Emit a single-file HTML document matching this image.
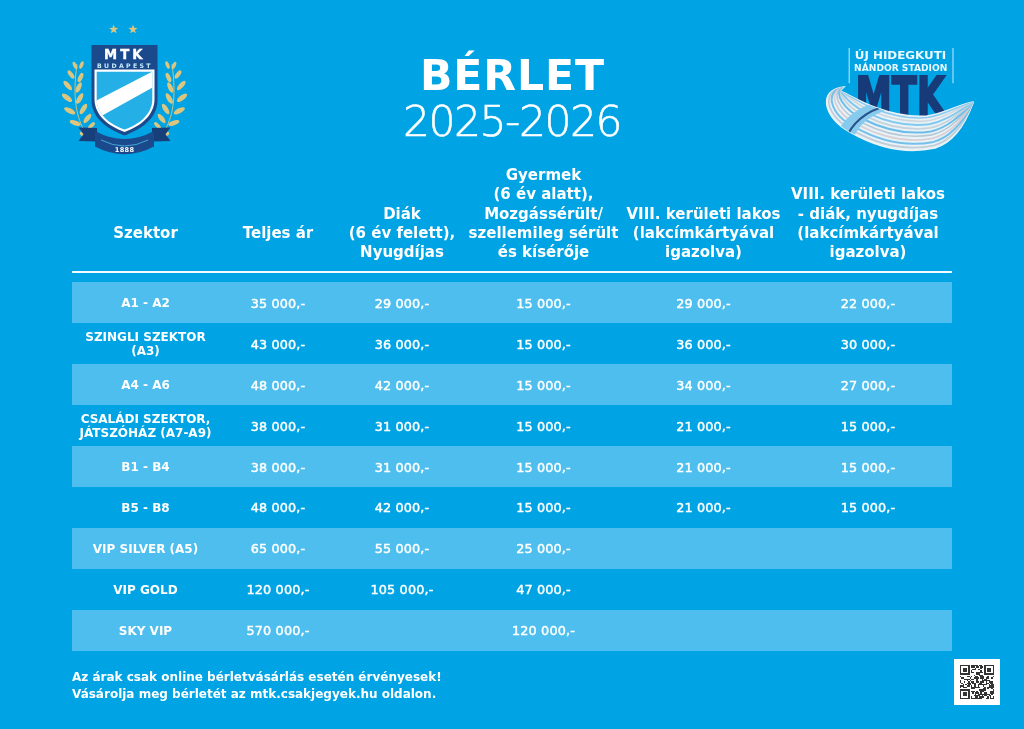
<!DOCTYPE html>
<html lang="hu"><head><meta charset="utf-8"><title>MTK Bérlet 2025-2026</title>
<style>
html,body{margin:0;padding:0}
#w{position:absolute;left:0;top:0;width:1024px;height:729px;filter:blur(0.45px)}
body{width:1024px;height:729px;background:#00a3e4;position:relative;overflow:hidden;font-family:"DejaVu Sans","Liberation Sans",sans-serif;color:#fff}
.a{position:absolute;display:block}
.t1{position:absolute;left:312px;width:400px;text-align:center;font-weight:bold;font-size:42.6px;line-height:50px;top:49.86px;letter-spacing:0.9px;text-indent:0.9px}
.t2{position:absolute;left:312px;width:400px;text-align:center;font-family:"DejaVu Sans","Liberation Sans",sans-serif;font-weight:200;font-size:42.5px;line-height:46px;top:99.29px;letter-spacing:-1.5px;-webkit-text-stroke:0.55px #fff}
.h{position:absolute;width:200px;text-align:center;font-weight:bold;font-size:15px;line-height:19.3px;white-space:nowrap}
.rule{position:absolute;left:72px;top:270.9px;width:880px;height:2.6px;background:#f2fbff}
.band{position:absolute;left:72px;width:880px;height:41px;background:#4dbeed}
.c{position:absolute;width:160px;text-align:center;font-weight:bold;font-size:12px;line-height:14px;white-space:nowrap}
.p{font-weight:normal;font-size:12.8px;letter-spacing:0.15px;-webkit-text-stroke:0.45px #fff}
.foot{position:absolute;left:72px;top:669.35px;font-weight:bold;font-size:12px;line-height:17px;white-space:nowrap}
.qr{position:absolute;left:954px;top:659px;width:46px;height:46px;background:#fff}
.qr svg{position:absolute;left:6px;top:6px}
</style></head><body><div id="w">
<svg class="a" style="left:50px;top:15px" width="150" height="150" viewBox="50 15 150 150"><polygon points="113.70,24.60 114.88,27.78 118.27,27.92 115.60,30.02 116.52,33.28 113.70,31.40 110.88,33.28 111.80,30.02 109.13,27.92 112.52,27.78" fill="#dcc67f"/><polygon points="133.00,24.60 134.18,27.78 137.57,27.92 134.90,30.02 135.82,33.28 133.00,31.40 130.18,33.28 131.10,30.02 128.43,27.92 131.82,27.78" fill="#dcc67f"/><ellipse cx="174.0" cy="65.5" rx="1.8" ry="4.0" transform="rotate(25.0 174.0 65.5)" fill="#dcc67f"/><ellipse cx="178.0" cy="74.5" rx="2.1" ry="5.0" transform="rotate(35.0 178.0 74.5)" fill="#dcc67f"/><ellipse cx="181.3" cy="85.5" rx="2.4" ry="5.9" transform="rotate(42.0 181.3 85.5)" fill="#dcc67f"/><ellipse cx="182.0" cy="97.8" rx="2.5" ry="6.2" transform="rotate(52.0 182.0 97.8)" fill="#dcc67f"/><ellipse cx="179.3" cy="110.8" rx="2.5" ry="6.2" transform="rotate(62.0 179.3 110.8)" fill="#dcc67f"/><ellipse cx="173.8" cy="123.0" rx="2.4" ry="5.8" transform="rotate(72.0 173.8 123.0)" fill="#dcc67f"/><ellipse cx="167.5" cy="65.0" rx="1.8" ry="4.0" transform="rotate(-20.0 167.5 65.0)" fill="#dcc67f"/><ellipse cx="168.5" cy="77.5" rx="2.1" ry="5.0" transform="rotate(-25.0 168.5 77.5)" fill="#dcc67f"/><ellipse cx="170.3" cy="87.5" rx="2.3" ry="5.6" transform="rotate(-25.0 170.3 87.5)" fill="#dcc67f"/><ellipse cx="169.3" cy="98.5" rx="2.4" ry="6.0" transform="rotate(-30.0 169.3 98.5)" fill="#dcc67f"/><ellipse cx="165.6" cy="109.0" rx="2.4" ry="6.0" transform="rotate(-32.0 165.6 109.0)" fill="#dcc67f"/><ellipse cx="161.6" cy="118.5" rx="2.3" ry="5.6" transform="rotate(-38.0 161.6 118.5)" fill="#dcc67f"/><ellipse cx="157.5" cy="125.5" rx="1.9" ry="4.4" transform="rotate(-45.0 157.5 125.5)" fill="#dcc67f"/><ellipse cx="166.5" cy="134.0" rx="2.0" ry="3.0" transform="rotate(60.0 166.5 134.0)" fill="#dcc67f"/><path d="M164,132 C172,118 177,100 172,64" stroke="#dcc67f" stroke-width="0.9" fill="none"/><ellipse cx="75.0" cy="65.5" rx="1.8" ry="4.0" transform="rotate(-25.0 75.0 65.5)" fill="#dcc67f"/><ellipse cx="71.0" cy="74.5" rx="2.1" ry="5.0" transform="rotate(-35.0 71.0 74.5)" fill="#dcc67f"/><ellipse cx="67.7" cy="85.5" rx="2.4" ry="5.9" transform="rotate(-42.0 67.7 85.5)" fill="#dcc67f"/><ellipse cx="67.0" cy="97.8" rx="2.5" ry="6.2" transform="rotate(-52.0 67.0 97.8)" fill="#dcc67f"/><ellipse cx="69.7" cy="110.8" rx="2.5" ry="6.2" transform="rotate(-62.0 69.7 110.8)" fill="#dcc67f"/><ellipse cx="75.2" cy="123.0" rx="2.4" ry="5.8" transform="rotate(-72.0 75.2 123.0)" fill="#dcc67f"/><ellipse cx="81.5" cy="65.0" rx="1.8" ry="4.0" transform="rotate(20.0 81.5 65.0)" fill="#dcc67f"/><ellipse cx="80.5" cy="77.5" rx="2.1" ry="5.0" transform="rotate(25.0 80.5 77.5)" fill="#dcc67f"/><ellipse cx="78.7" cy="87.5" rx="2.3" ry="5.6" transform="rotate(25.0 78.7 87.5)" fill="#dcc67f"/><ellipse cx="79.7" cy="98.5" rx="2.4" ry="6.0" transform="rotate(30.0 79.7 98.5)" fill="#dcc67f"/><ellipse cx="83.4" cy="109.0" rx="2.4" ry="6.0" transform="rotate(32.0 83.4 109.0)" fill="#dcc67f"/><ellipse cx="87.4" cy="118.5" rx="2.3" ry="5.6" transform="rotate(38.0 87.4 118.5)" fill="#dcc67f"/><ellipse cx="91.5" cy="125.5" rx="1.9" ry="4.4" transform="rotate(45.0 91.5 125.5)" fill="#dcc67f"/><ellipse cx="82.5" cy="134.0" rx="2.0" ry="3.0" transform="rotate(-60.0 82.5 134.0)" fill="#dcc67f"/><path d="M85,132 C77,118 72,100 77,64" stroke="#dcc67f" stroke-width="0.9" fill="none"/><path d="M91.5,45 L157.5,45 L157.5,100 C157.5,118 142,129 124.5,135.5 C107,129 91.5,118 91.5,100 Z" fill="#1b4a8c"/><path d="M94.5,69.5 L154.5,69.5 L154.5,99 C154.5,115 141,126 124.5,132 C108,126 94.5,115 94.5,99 Z" fill="#ffffff"/><clipPath id="sc"><path d="M96.7,71.7 L152.3,71.7 L152.3,99 C152.3,114 140,124 124.5,129.5 C109,124 96.7,114 96.7,99 Z"/></clipPath><g clip-path="url(#sc)"><rect x="90" y="68" width="70" height="70" fill="#25afe7"/><polygon points="92,102.8 158,68.7 158,84.5 92,121.3" fill="#ffffff"/></g><text x="104" y="58.7" font-family="DejaVu Sans,Liberation Sans,sans-serif" font-weight="bold" font-size="13.2" textLength="38.6" lengthAdjust="spacing" fill="#ffffff" stroke="#ffffff" stroke-width="0.35">MTK</text><text x="97" y="67.6" font-family="DejaVu Sans,Liberation Sans,sans-serif" font-weight="bold" font-size="6.2" textLength="53.6" lengthAdjust="spacing" fill="#c4e9f8">BUDAPEST</text><polygon points="78.5,127.5 97,128 97,141.5 78.5,141 83.5,134.2" fill="#173f7a"/><polygon points="170.5,127.5 152,128 152,141.5 170.5,141 165.5,134.2" fill="#173f7a"/><path d="M95,131 Q124.5,147 154,131 L154,146.5 Q124.5,162 95,146.5 Z" fill="#1b4a8c"/><path d="M101,140 Q124.5,152 148,140" stroke="#4fbdec" stroke-width="0.8" fill="none"/><text x="124.6" y="152.3" text-anchor="middle" font-family="DejaVu Sans,Liberation Sans,sans-serif" font-weight="bold" font-size="6.6" letter-spacing="0.3" fill="#ffffff">1888</text></svg>
<svg class="a" style="left:810px;top:40px" width="180" height="125" viewBox="810 40 180 125"><line x1="849.2" y1="48" x2="849.2" y2="83.3" stroke="#b5e6fa" stroke-width="1.1"/><line x1="953" y1="48" x2="953" y2="83.3" stroke="#b5e6fa" stroke-width="1.1"/><text x="900.5" y="59" text-anchor="middle" font-family="DejaVu Sans,Liberation Sans,sans-serif" font-weight="bold" font-size="10.6" textLength="91.5" lengthAdjust="spacingAndGlyphs" fill="#eafaff">ÚJ HIDEGKUTI</text><text x="900.7" y="70.6" text-anchor="middle" font-family="DejaVu Sans,Liberation Sans,sans-serif" font-weight="bold" font-size="9" textLength="93.2" lengthAdjust="spacingAndGlyphs" fill="#eafaff">NÁNDOR STADION</text><text x="855.4" y="115" font-family="DejaVu Sans,Liberation Sans,sans-serif" font-weight="bold" font-size="53" textLength="89.6" lengthAdjust="spacingAndGlyphs" fill="#173a78" stroke="#173a78" stroke-width="2.2">MTK</text><clipPath id="cr"><path d="M844.0,87.0 C818.0,89.0 822.0,117.0 850.0,132.0 C876.0,147.0 905.0,154.5 935.0,148.0 C955.0,142.0 966.0,122.0 973.0,103.0 L973.0,102.0 C960.0,104.0 945.0,113.5 927.0,116.0 C907.0,117.5 892.0,113.5 877.0,108.0 C860.0,102.0 850.0,95.0 840.0,91.0 Z"/></clipPath><path d="M844.0,87.0 C818.0,89.0 822.0,117.0 850.0,132.0 C876.0,147.0 905.0,154.5 935.0,148.0 C955.0,142.0 966.0,122.0 973.0,103.0 L973.0,102.0 C960.0,104.0 945.0,113.5 927.0,116.0 C907.0,117.5 892.0,113.5 877.0,108.0 C860.0,102.0 850.0,95.0 840.0,91.0 Z" fill="#e8f2f7" stroke="#e8f2f7" stroke-width="1.5"/><g clip-path="url(#cr)" fill="none"><path d="M843.7,87.3 C820.6,89.5 825.0,115.8 852.2,130.1 C877.3,144.3 905.2,151.5 934.4,145.4 C954.2,139.7 965.5,120.6 973.0,102.9" stroke="#c3cdd6" stroke-width="1.8"/><path d="M843.2,87.8 C824.1,90.1 829.2,114.2 855.1,127.4 C879.0,140.6 905.4,147.5 933.5,141.9 C953.1,136.6 964.9,118.6 973.0,102.8" stroke="#74c0ea" stroke-width="2.0"/><path d="M842.8,88.2 C827.6,90.8 833.4,112.5 858.1,124.8 C880.8,136.9 905.6,143.4 932.6,138.4 C952.0,133.4 964.2,116.6 973.0,102.7" stroke="#d9d0d6" stroke-width="1.8"/><path d="M842.4,88.6 C831.1,91.5 837.6,110.9 861.1,122.2 C882.6,133.3 905.8,139.3 931.7,134.9 C950.9,130.3 963.5,114.6 973.0,102.6" stroke="#b9c8d3" stroke-width="1.6"/><path d="M841.9,89.1 C834.6,92.1 841.8,109.2 864.0,119.5 C884.3,129.6 906.0,135.3 930.8,131.4 C949.8,127.2 962.9,112.6 973.0,102.5" stroke="#6ebde9" stroke-width="2.0"/><path d="M841.5,89.5 C838.2,92.8 845.9,107.6 867.0,116.9 C886.1,125.9 906.3,131.2 930.0,127.8 C948.7,124.0 962.2,110.7 973.0,102.4" stroke="#c8d2da" stroke-width="1.8"/><path d="M841.0,90.0 C841.7,93.4 850.1,105.9 870.0,114.2 C887.8,122.2 906.5,127.1 929.1,124.3 C947.6,120.9 961.6,108.7 973.0,102.3" stroke="#83c8ee" stroke-width="1.9"/><path d="M840.6,90.4 C845.2,94.1 854.3,104.2 872.9,111.6 C889.6,118.5 906.7,123.1 928.2,120.8 C946.5,117.8 960.9,106.7 973.0,102.2" stroke="#cfd6dc" stroke-width="1.6"/><path d="M840.2,90.8 C848.4,94.7 858.1,102.8 875.6,109.2 C891.2,115.2 906.9,119.4 927.4,117.6 C945.5,114.9 960.3,104.9 973.0,102.0" stroke="#8ccbee" stroke-width="1.5"/><path d="M837,133 C844,118 860,104 889,99 L893,109 C868,114 857,127 852,142 Z" fill="#86cbee"/><path d="M846,139 C851,125 864,111 889,105" stroke="#2a5288" stroke-width="2.2"/></g></svg>
<div class="t1">BÉRLET</div>
<div class="t2">2025-2026</div>
<div class="h" style="left:45.5px;top:224.36px">Szektor</div>
<div class="h" style="left:178px;top:224.36px">Teljes ár</div>
<div class="h" style="left:302px;top:204.56px">Diák<br>(6 év felett),<br>Nyugdíjas</div>
<div class="h" style="left:443.5px;top:165.96px">Gyermek<br>(6 év alatt),<br>Mozgássérült/<br>szellemileg sérült<br>és kísérője</div>
<div class="h" style="left:603.5px;top:204.56px">VIII. kerületi lakos<br>(lakcímkártyával<br>igazolva)</div>
<div class="h" style="left:768px;top:185.26px">VIII. kerületi lakos<br>- diák, nyugdíjas<br>(lakcímkártyával<br>igazolva)</div>
<div class="rule"></div>
<div class="band" style="top:282px"></div>
<div class="c lab" style="left:65.5px;top:296.1px">A1 - A2</div>
<div class="c p" style="left:198px;top:296.7px">35 000,-</div>
<div class="c p" style="left:322px;top:296.7px">29 000,-</div>
<div class="c p" style="left:463.5px;top:296.7px">15 000,-</div>
<div class="c p" style="left:623.5px;top:296.7px">29 000,-</div>
<div class="c p" style="left:788px;top:296.7px">22 000,-</div>
<div class="c lab" style="left:65.5px;top:330.05px">SZINGLI SZEKTOR<br>(A3)</div>
<div class="c p" style="left:198px;top:337.65px">43 000,-</div>
<div class="c p" style="left:322px;top:337.65px">36 000,-</div>
<div class="c p" style="left:463.5px;top:337.65px">15 000,-</div>
<div class="c p" style="left:623.5px;top:337.65px">36 000,-</div>
<div class="c p" style="left:788px;top:337.65px">30 000,-</div>
<div class="band" style="top:363.9px"></div>
<div class="c lab" style="left:65.5px;top:378px">A4 - A6</div>
<div class="c p" style="left:198px;top:378.6px">48 000,-</div>
<div class="c p" style="left:322px;top:378.6px">42 000,-</div>
<div class="c p" style="left:463.5px;top:378.6px">15 000,-</div>
<div class="c p" style="left:623.5px;top:378.6px">34 000,-</div>
<div class="c p" style="left:788px;top:378.6px">27 000,-</div>
<div class="c lab" style="left:65.5px;top:411.95px">CSALÁDI SZEKTOR,<br>JÁTSZÓHÁZ (A7-A9)</div>
<div class="c p" style="left:198px;top:419.55px">38 000,-</div>
<div class="c p" style="left:322px;top:419.55px">31 000,-</div>
<div class="c p" style="left:463.5px;top:419.55px">15 000,-</div>
<div class="c p" style="left:623.5px;top:419.55px">21 000,-</div>
<div class="c p" style="left:788px;top:419.55px">15 000,-</div>
<div class="band" style="top:445.8px"></div>
<div class="c lab" style="left:65.5px;top:459.9px">B1 - B4</div>
<div class="c p" style="left:198px;top:460.5px">38 000,-</div>
<div class="c p" style="left:322px;top:460.5px">31 000,-</div>
<div class="c p" style="left:463.5px;top:460.5px">15 000,-</div>
<div class="c p" style="left:623.5px;top:460.5px">21 000,-</div>
<div class="c p" style="left:788px;top:460.5px">15 000,-</div>
<div class="c lab" style="left:65.5px;top:500.85px">B5 - B8</div>
<div class="c p" style="left:198px;top:501.45px">48 000,-</div>
<div class="c p" style="left:322px;top:501.45px">42 000,-</div>
<div class="c p" style="left:463.5px;top:501.45px">15 000,-</div>
<div class="c p" style="left:623.5px;top:501.45px">21 000,-</div>
<div class="c p" style="left:788px;top:501.45px">15 000,-</div>
<div class="band" style="top:527.7px"></div>
<div class="c lab" style="left:65.5px;top:541.8px">VIP SILVER (A5)</div>
<div class="c p" style="left:198px;top:542.4px">65 000,-</div>
<div class="c p" style="left:322px;top:542.4px">55 000,-</div>
<div class="c p" style="left:463.5px;top:542.4px">25 000,-</div>
<div class="c lab" style="left:65.5px;top:582.75px">VIP GOLD</div>
<div class="c p" style="left:198px;top:583.35px">120 000,-</div>
<div class="c p" style="left:322px;top:583.35px">105 000,-</div>
<div class="c p" style="left:463.5px;top:583.35px">47 000,-</div>
<div class="band" style="top:609.6px"></div>
<div class="c lab" style="left:65.5px;top:623.7px">SKY VIP</div>
<div class="c p" style="left:198px;top:624.3px">570 000,-</div>
<div class="c p" style="left:463.5px;top:624.3px">120 000,-</div>
<div class="foot">Az árak csak online bérletvásárlás esetén érvényesek!<br>Vásárolja meg bérletét az mtk.csakjegyek.hu oldalon.</div>
<div class="qr"><svg width="34" height="34" viewBox="0 0 25 25" shape-rendering="crispEdges" fill="#333333"><rect x="0" y="0" width="7" height="1"/><rect x="8" y="0" width="5" height="1"/><rect x="14" y="0" width="2" height="1"/><rect x="18" y="0" width="7" height="1"/><rect x="0" y="1" width="1" height="1"/><rect x="6" y="1" width="1" height="1"/><rect x="8" y="1" width="3" height="1"/><rect x="12" y="1" width="2" height="1"/><rect x="15" y="1" width="2" height="1"/><rect x="18" y="1" width="1" height="1"/><rect x="24" y="1" width="1" height="1"/><rect x="0" y="2" width="1" height="1"/><rect x="2" y="2" width="3" height="1"/><rect x="6" y="2" width="1" height="1"/><rect x="11" y="2" width="1" height="1"/><rect x="15" y="2" width="1" height="1"/><rect x="18" y="2" width="1" height="1"/><rect x="20" y="2" width="3" height="1"/><rect x="24" y="2" width="1" height="1"/><rect x="0" y="3" width="1" height="1"/><rect x="2" y="3" width="3" height="1"/><rect x="6" y="3" width="1" height="1"/><rect x="9" y="3" width="3" height="1"/><rect x="13" y="3" width="2" height="1"/><rect x="18" y="3" width="1" height="1"/><rect x="20" y="3" width="3" height="1"/><rect x="24" y="3" width="1" height="1"/><rect x="0" y="4" width="1" height="1"/><rect x="2" y="4" width="3" height="1"/><rect x="6" y="4" width="1" height="1"/><rect x="8" y="4" width="1" height="1"/><rect x="15" y="4" width="1" height="1"/><rect x="18" y="4" width="1" height="1"/><rect x="20" y="4" width="3" height="1"/><rect x="24" y="4" width="1" height="1"/><rect x="0" y="5" width="1" height="1"/><rect x="6" y="5" width="1" height="1"/><rect x="8" y="5" width="2" height="1"/><rect x="12" y="5" width="5" height="1"/><rect x="18" y="5" width="1" height="1"/><rect x="24" y="5" width="1" height="1"/><rect x="0" y="6" width="7" height="1"/><rect x="12" y="6" width="3" height="1"/><rect x="18" y="6" width="7" height="1"/><rect x="10" y="7" width="1" height="1"/><rect x="14" y="7" width="3" height="1"/><rect x="0" y="8" width="1" height="1"/><rect x="5" y="8" width="2" height="1"/><rect x="8" y="8" width="1" height="1"/><rect x="11" y="8" width="2" height="1"/><rect x="15" y="8" width="3" height="1"/><rect x="20" y="8" width="1" height="1"/><rect x="24" y="8" width="1" height="1"/><rect x="1" y="9" width="2" height="1"/><rect x="7" y="9" width="1" height="1"/><rect x="10" y="9" width="4" height="1"/><rect x="15" y="9" width="3" height="1"/><rect x="19" y="9" width="2" height="1"/><rect x="23" y="9" width="1" height="1"/><rect x="3" y="10" width="4" height="1"/><rect x="8" y="10" width="2" height="1"/><rect x="12" y="10" width="1" height="1"/><rect x="16" y="10" width="1" height="1"/><rect x="18" y="10" width="2" height="1"/><rect x="0" y="11" width="1" height="1"/><rect x="5" y="11" width="1" height="1"/><rect x="7" y="11" width="1" height="1"/><rect x="12" y="11" width="1" height="1"/><rect x="16" y="11" width="6" height="1"/><rect x="0" y="12" width="1" height="1"/><rect x="3" y="12" width="1" height="1"/><rect x="6" y="12" width="1" height="1"/><rect x="8" y="12" width="2" height="1"/><rect x="12" y="12" width="2" height="1"/><rect x="15" y="12" width="3" height="1"/><rect x="19" y="12" width="1" height="1"/><rect x="21" y="12" width="3" height="1"/><rect x="1" y="13" width="1" height="1"/><rect x="5" y="13" width="3" height="1"/><rect x="9" y="13" width="3" height="1"/><rect x="14" y="13" width="2" height="1"/><rect x="19" y="13" width="2" height="1"/><rect x="22" y="13" width="2" height="1"/><rect x="2" y="14" width="1" height="1"/><rect x="4" y="14" width="1" height="1"/><rect x="6" y="14" width="2" height="1"/><rect x="10" y="14" width="2" height="1"/><rect x="13" y="14" width="7" height="1"/><rect x="21" y="14" width="1" height="1"/><rect x="23" y="14" width="2" height="1"/><rect x="0" y="15" width="3" height="1"/><rect x="5" y="15" width="2" height="1"/><rect x="8" y="15" width="1" height="1"/><rect x="10" y="15" width="2" height="1"/><rect x="13" y="15" width="1" height="1"/><rect x="17" y="15" width="1" height="1"/><rect x="21" y="15" width="4" height="1"/><rect x="0" y="16" width="1" height="1"/><rect x="2" y="16" width="3" height="1"/><rect x="8" y="16" width="7" height="1"/><rect x="18" y="16" width="1" height="1"/><rect x="20" y="16" width="5" height="1"/><rect x="8" y="17" width="3" height="1"/><rect x="17" y="17" width="2" height="1"/><rect x="20" y="17" width="1" height="1"/><rect x="23" y="17" width="1" height="1"/><rect x="0" y="18" width="7" height="1"/><rect x="14" y="18" width="5" height="1"/><rect x="24" y="18" width="1" height="1"/><rect x="0" y="19" width="1" height="1"/><rect x="6" y="19" width="1" height="1"/><rect x="8" y="19" width="3" height="1"/><rect x="12" y="19" width="1" height="1"/><rect x="15" y="19" width="3" height="1"/><rect x="22" y="19" width="3" height="1"/><rect x="0" y="20" width="1" height="1"/><rect x="2" y="20" width="3" height="1"/><rect x="6" y="20" width="1" height="1"/><rect x="9" y="20" width="1" height="1"/><rect x="11" y="20" width="3" height="1"/><rect x="15" y="20" width="1" height="1"/><rect x="18" y="20" width="2" height="1"/><rect x="22" y="20" width="3" height="1"/><rect x="0" y="21" width="1" height="1"/><rect x="2" y="21" width="3" height="1"/><rect x="6" y="21" width="1" height="1"/><rect x="11" y="21" width="1" height="1"/><rect x="13" y="21" width="9" height="1"/><rect x="23" y="21" width="1" height="1"/><rect x="0" y="22" width="1" height="1"/><rect x="2" y="22" width="3" height="1"/><rect x="6" y="22" width="1" height="1"/><rect x="10" y="22" width="5" height="1"/><rect x="16" y="22" width="1" height="1"/><rect x="18" y="22" width="2" height="1"/><rect x="21" y="22" width="2" height="1"/><rect x="0" y="23" width="1" height="1"/><rect x="6" y="23" width="1" height="1"/><rect x="8" y="23" width="1" height="1"/><rect x="11" y="23" width="2" height="1"/><rect x="14" y="23" width="4" height="1"/><rect x="20" y="23" width="1" height="1"/><rect x="22" y="23" width="1" height="1"/><rect x="24" y="23" width="1" height="1"/><rect x="0" y="24" width="7" height="1"/><rect x="8" y="24" width="8" height="1"/><rect x="19" y="24" width="2" height="1"/><rect x="22" y="24" width="3" height="1"/></svg></div>
</div></body></html>
